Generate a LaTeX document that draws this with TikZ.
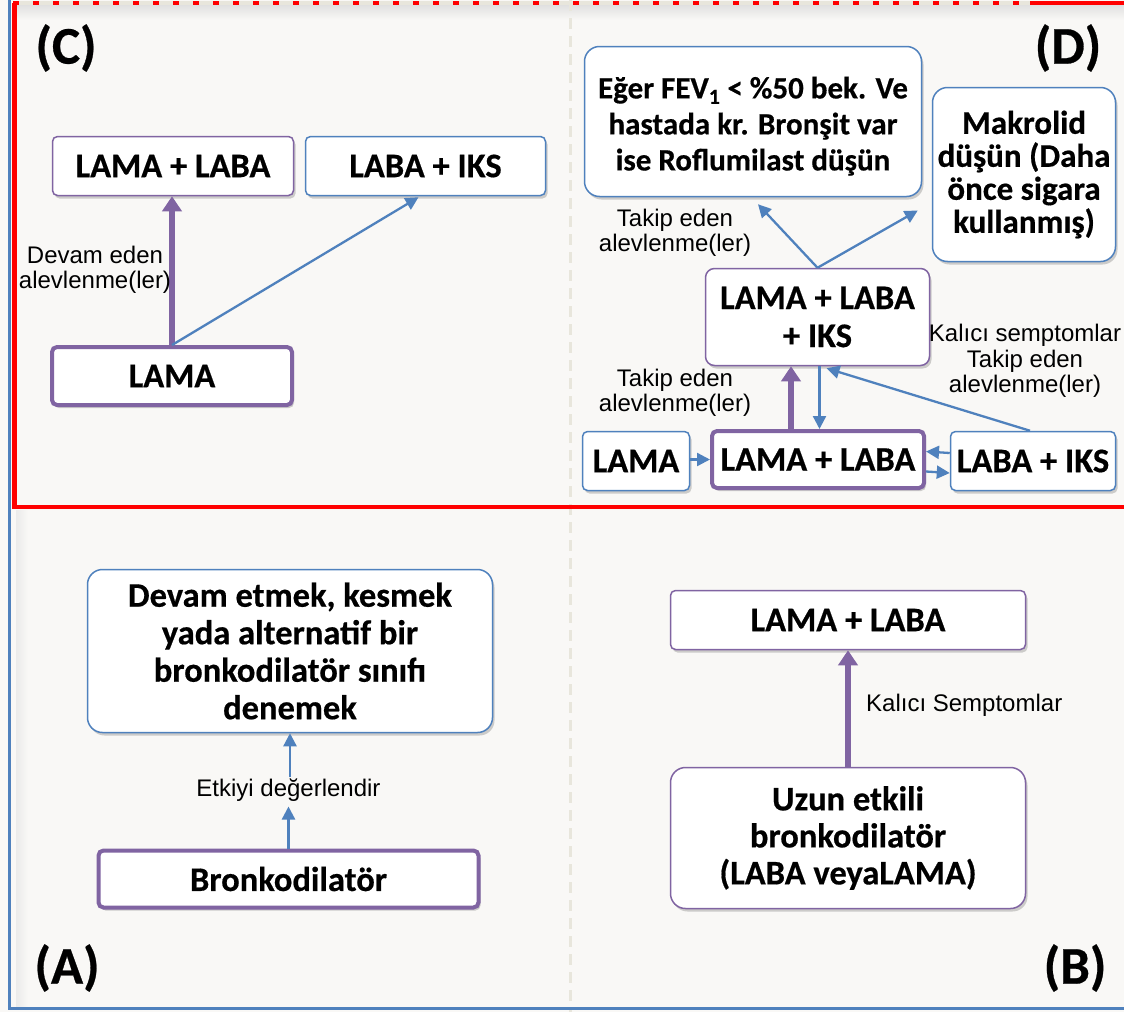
\documentclass[tikz,border=0pt]{standalone}
\usepackage{fontspec}
\setmainfont{Carlito}[BoldFeatures={FakeBold=0.5}]
\newfontfamily\arialf{Liberation Sans}
\usetikzlibrary{arrows.meta,shadows,calc}
\definecolor{blueC}{HTML}{4F81BD}
\definecolor{purpleC}{HTML}{8064A2}
\definecolor{redC}{HTML}{FF0000}
\definecolor{bgC}{HTML}{F9F8F6}
\definecolor{beigeC}{HTML}{E8E6DC}
\tikzset{
  box/.style={fill=white, align=center, inner sep=0pt, rounded corners=5pt,
    font=\bfseries\fontsize{34.5}{37}\selectfont,
    drop shadow={shadow xshift=2pt, shadow yshift=-3pt, opacity=0.18, fill=black}},
  bbox/.style={box, draw=blueC, line width=1.5pt},
  pbox/.style={box, draw=purpleC, line width=1.5pt},
  ptbox/.style={box, draw=purpleC, line width=4pt},
  lbl/.style={font=\arialf\fontsize{24}{25.5}\selectfont, align=center, inner sep=0pt},
  panel/.style={font=\bfseries\fontsize{53}{56}\selectfont, inner sep=0pt},
  barr/.style={draw=blueC, line width=2.3pt, -{Triangle[length=13pt,width=13pt]}},
  parr/.style={draw=purpleC, line width=6pt, -{Triangle[length=15pt,width=19pt]}},
}
\begin{document}
\begin{tikzpicture}[x=1pt,y=-1pt]
\useasboundingbox (0,0) rectangle (1124,1012);
\fill[bgC] (0,0) rectangle (1124,1012);
% inner shading
\shade[top color=black!12, bottom color=bgC] (16,5) rectangle (1124,20);
\shade[left color=black!8, right color=bgC] (16,510) rectangle (28,1006);
% beige dashed separator
\draw[beigeC, line width=3pt, dash pattern=on 11pt off 7pt] (570,0) -- (570,1012);
% blue outer border
\draw[blueC, line width=3pt] (9,0) -- (9,1008.5) -- (1124,1008.5);
% red border of the upper panels
\draw[beigeC, line width=4pt] (13,3) -- (1030,3);
\draw[redC, line width=4pt, dash pattern=on 6pt off 14pt] (13,3) -- (1030,3);
\draw[redC, line width=4pt] (1030,3) -- (1124,3);
\draw[redC, line width=4.5pt] (14.5,3) -- (14.5,507) -- (1124,507);

% panel labels
\node[panel] (lC) at (66,48) {(C)};
\node[panel] (lD) at (1068,48) {(D)};
\node[panel] (lA) at (67,968) {(A)};
\node[panel] (lB) at (1075,968) {(B)};

% ---- (C)
\node[pbox, minimum width=241pt, minimum height=59pt] (c1) at (173,166) {LAMA + LABA};
\node[bbox, minimum width=240pt, minimum height=59pt] (c2) at (425.5,166) {LABA + IKS};
\node[ptbox, minimum width=240pt, minimum height=58pt] (c3) at (172,376) {LAMA};
\draw[parr] (c3.north) -- (c3.north |- c1.south);
\draw[barr] (c3.north) -- ($(c2.south)+(-7,1)$);
\node[lbl] (lc) at (95,270) {Devam eden\\alevlenme(ler)};

% ---- (D)
\node[bbox, rounded corners=15pt, minimum width=337pt, minimum height=150pt,
  font=\bfseries\fontsize{31}{36}\selectfont] (d1) at (753,121.5)
  {\rule{0pt}{31pt}Eğer FEV\textsubscript{1} < \%50 bek. Ve\\hastada kr. Bronşit var\\ise Roflumilast düşün};
\node[bbox, rounded corners=15pt, minimum width=183pt, minimum height=174pt,
  font=\bfseries\fontsize{33}{33}\selectfont] (d2) at (1024,174.5)
  {Makrolid\\düşün (Daha\\önce sigara\\kullanmış)};
\node[pbox, rounded corners=9pt, minimum width=224pt, minimum height=97pt,
  font=\bfseries\fontsize{34.5}{38}\selectfont] (d3) at (817.5,317) {LAMA + LABA\\+ IKS};
\draw[barr] (d3.north) -- ($(d1.south)+(5,7)$);
\draw[barr] (d3.north) -- ($(d2.west)+(-14,36)$);
\node[lbl] (ld1) at (675,233) {Takip eden\\alevlenme(ler)};

\node[bbox, minimum width=107pt, minimum height=59pt] (d4) at (636,461) {LAMA};
\node[ptbox, minimum width=212pt, minimum height=57pt] (d5) at (818,459.5) {LAMA + LABA};
\node[bbox, minimum width=165pt, minimum height=59pt] (d6) at (1033,461) {LABA + IKS};
\draw[barr] (d4.east |- d5.west) -- (d5.west);
\draw[barr] ($(d6.west)+(0,-8)$) -- ($(d5.east)+(0,-8)$);
\draw[barr] ($(d5.east)+(0,12)$) -- ($(d6.west)+(0,12)$);
\coordinate (p1) at ($(d5.north)+(-27,0)$);
\draw[parr] (p1) -- (p1 |- d3.south);
\coordinate (p2) at ($(d3.south)+(2,0)$);
\draw[barr] (p2) -- (p2 |- d5.north);
\draw[barr] ($(d6.north)+(-3,0)$) -- ($(d3.south)+(9,2)$);
\node[lbl] (ld2) at (1025,361) {Kalıcı semptomlar\\Takip eden\\alevlenme(ler)};
\node[lbl] (ld3) at (675,393) {Takip eden\\alevlenme(ler)};

% ---- (A)
\node[bbox, rounded corners=15pt, minimum width=405pt, minimum height=163pt,
  font=\bfseries\fontsize{34.5}{37.5}\selectfont] (a1) at (290,651)
  {Devam etmek, kesmek\\yada alternatif bir\\bronkodilatör sınıfı\\denemek};
\node[ptbox, minimum width=380pt, minimum height=57pt] (a2) at (288.5,879) {Bronkodilatör};
\coordinate (a3) at ($(a2.north)+(0,-42)$);
\coordinate (a4) at ($(a1.south)+(0,44)$);
\draw[barr] (a2.north) -- (a3);
\draw[barr] (a4) -- (a1.south);
\node[lbl] (la) at (288.5,790) {Etkiyi değerlendir};

% ---- (B)
\node[pbox, minimum width=355pt, minimum height=59pt] (b1) at (848,620) {LAMA + LABA};
\node[pbox, rounded corners=15pt, minimum width=355pt, minimum height=141pt,
  font=\bfseries\fontsize{34.5}{37}\selectfont] (b2) at (848,838)
  {Uzun etkili\\bronkodilatör\\(LABA veyaLAMA)};
\draw[parr] (b2.north) -- (b1.south);
\node[lbl, anchor=west] (lb) at (866,705) {Kalıcı Semptomlar};
\end{tikzpicture}
\end{document}
